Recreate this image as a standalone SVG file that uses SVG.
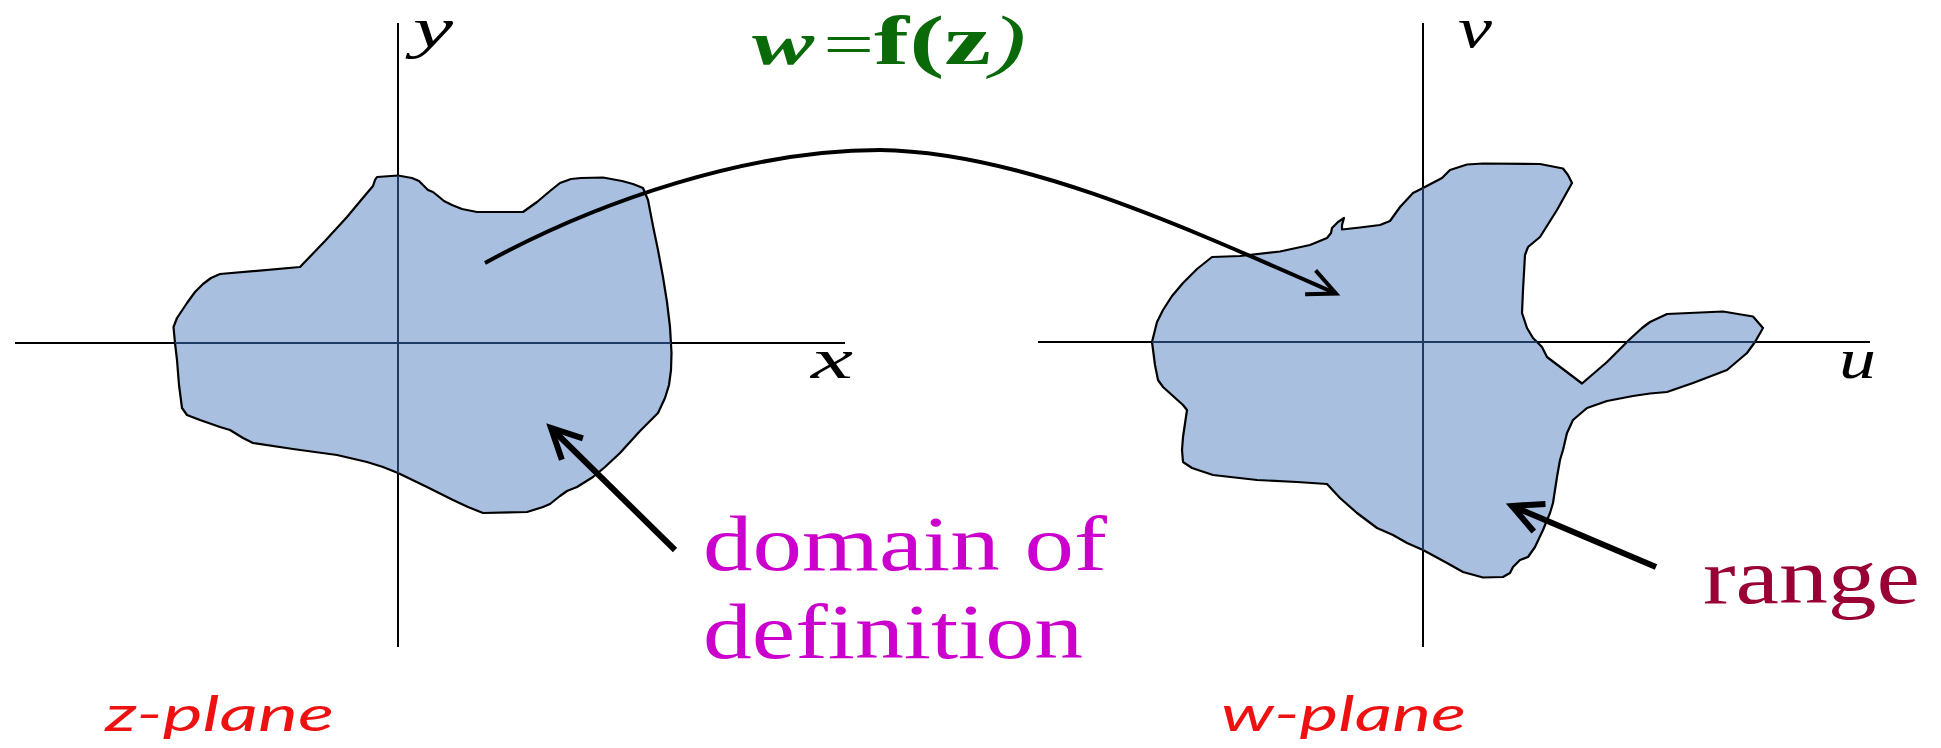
<svg xmlns="http://www.w3.org/2000/svg" width="1941" height="748" viewBox="0 0 1941 748">
<style>
.axis{stroke:#000;stroke-width:2;fill:none}
.axisIn{stroke:#1f3a63;stroke-width:2;fill:none}
.blob{fill:#a9bfe0;stroke:#000;stroke-width:2.2;stroke-linejoin:round}
.ax{font-family:"Liberation Serif",serif;font-style:italic;font-size:56px;fill:#000}
.lbl{font-family:"Liberation Serif",serif;font-size:78px}
.plane{font-family:Lato,"Open Sans",sans-serif;font-style:italic;font-size:48px;fill:#ee1111}
.conn{fill:none;stroke:#000}
</style>
<defs>
<path id="blobL" d="M377,177 L398,175.5 L412,178 L419,181 L424,186 L428,190 L433,192 L438,196 L444,201 L452,205 L462,209 L477,212 L523,212 L537,202 L550,191 L560,183 L571,179 L581,178 L603,177.5 L622,181 L633,184 L643,188 L648,200 L653,226 L658,250 L663,277 L667,302 L670,327 L671.5,353 L671,370 L669,385 L665,398 L658,413 L640,431 L620,453 L605,467 L593,477 L577,487 L567,491 L560,496 L550,504 L543,507 L527,512 L483,513 L468,507 L453,500 L427,487 L398,473 L383,467 L367,462 L337,455 L293,449 L253,443 L243,438 L230,430 L220,427 L200,420 L187,415 L182,408 L179,385 L177,360 L175,343 L173.5,327 L177,318 L187,303 L195,292 L203,284 L211,278 L220,274 L300,267 L325,241 L347,217 L362,199 L373,186 L375,180 Z"/>
<path id="blobR" d="M1152,342 L1157,322 L1163,310 L1172,296 L1183,283 L1197,269 L1212,257 L1240,256 L1280,251.5 L1310,245 L1327,238 L1331,233 L1332,228 L1338,222 L1344,218 L1342,225 L1342,229.5 L1360,227.5 L1380,225 L1390,221 L1395,214 L1400,207 L1413,193 L1423,188 L1442,178 L1450,170 L1467,164.5 L1483,163.5 L1540,164 L1563,168.5 L1568,175 L1572,183 L1557,210 L1540,237 L1528,247 L1525,255 L1523,290 L1522,313 L1527,328 L1533,338 L1542,347 L1547,357 L1582,383.5 L1607,362 L1630,339 L1642,328 L1650,322 L1667,314 L1723,311.5 L1753,316.5 L1763,328 L1755,342 L1747,353 L1727,370 L1693,383 L1667,392 L1650,393.5 L1633,396 L1607,401 L1587,408 L1573,420 L1567,433 L1563,450 L1560,460 L1557,477 L1553,503 L1550,513 L1543,530 L1535,547 L1528,557 L1520,560 L1513,567 L1510,573 L1503,577 L1483,577.5 L1463,572 L1447,563 L1423,550 L1407,543 L1393,535 L1377,528 L1357,513 L1340,498 L1327,484 L1297,482 L1257,480 L1213,475 L1192,468 L1183,462 L1182,450 L1183,437 L1187,410 L1183,405 L1163,387 L1158,380 L1155,365 Z"/>
<clipPath id="clipL"><use href="#blobL"/></clipPath>
<clipPath id="clipR"><use href="#blobR"/></clipPath>
<marker id="headThin" markerUnits="userSpaceOnUse" orient="auto" refX="0" refY="0" markerWidth="60" markerHeight="60" overflow="visible">
<path d="M-28,-13 L0,0 L-28,13" fill="none" stroke="#000" stroke-width="4" stroke-linejoin="miter"/>
</marker>
<marker id="headThick" markerUnits="userSpaceOnUse" orient="auto" refX="0" refY="0" markerWidth="60" markerHeight="60" overflow="visible">
<path d="M-30,-15 L0,0 L-30,15" fill="none" stroke="#000" stroke-width="6" stroke-linejoin="miter"/>
</marker>
</defs>
<rect width="1941" height="748" fill="#fff"/>

<g id="z-plane-axes">
<line class="axis" x1="15" y1="343" x2="845" y2="343"/>
<line class="axis" x1="398" y1="23" x2="398" y2="647"/>
</g>
<g id="w-plane-axes">
<line class="axis" x1="1038" y1="342" x2="1870" y2="342"/>
<line class="axis" x1="1423" y1="23" x2="1423" y2="647"/>
</g>

<g id="domain">
<use href="#blobL" class="blob"/>
<g clip-path="url(#clipL)">
<line class="axisIn" x1="15" y1="343" x2="845" y2="343"/>
<line class="axisIn" x1="398" y1="23" x2="398" y2="647"/>
</g>
</g>
<g id="range">
<use href="#blobR" class="blob"/>
<g clip-path="url(#clipR)">
<line class="axisIn" x1="1038" y1="342" x2="1870" y2="342"/>
<line class="axisIn" x1="1423" y1="23" x2="1423" y2="647"/>
</g>
</g>

<g id="connectors">
<path class="conn" stroke-width="4" d="M485,263 C600,200 750,150 880,150 C1020,152 1180,225 1336,293.5" marker-end="url(#headThin)"/>
<line class="conn" stroke-width="6" x1="675" y1="550" x2="551" y2="428" marker-end="url(#headThick)"/>
<line class="conn" stroke-width="6" x1="1656" y1="567" x2="1512" y2="506" marker-end="url(#headThick)"/>
</g>

<g id="labels">
<text class="ax" x="413" y="47" textLength="40" lengthAdjust="spacingAndGlyphs">y</text>
<text class="ax" x="811" y="378" textLength="42" lengthAdjust="spacingAndGlyphs">x</text>
<text class="ax" x="1458" y="47" font-size="52" textLength="34" lengthAdjust="spacingAndGlyphs">v</text>
<text class="ax" x="1839" y="378" textLength="37" lengthAdjust="spacingAndGlyphs">u</text>
<text id="title" x="752" y="64" font-family="Liberation Serif, serif" fill="#0a6a0a" textLength="274" lengthAdjust="spacingAndGlyphs"><tspan font-style="italic" font-weight="bold" font-size="62">w</tspan><tspan font-size="60" dx="6">=</tspan><tspan font-weight="bold" font-size="70">f(z</tspan><tspan font-style="italic" font-size="70">)</tspan></text>
<text class="lbl" x="703" y="570" fill="#cc00cc" textLength="404" lengthAdjust="spacingAndGlyphs">domain of</text>
<text class="lbl" x="703" y="658" fill="#cc00cc" textLength="380" lengthAdjust="spacingAndGlyphs">definition</text>
<text class="lbl" x="1703" y="603" fill="#990033" textLength="217" lengthAdjust="spacingAndGlyphs">range</text>
<text class="plane" x="105" y="731" textLength="229" lengthAdjust="spacingAndGlyphs">z-plane</text>
<text class="plane" x="1221" y="731" textLength="245" lengthAdjust="spacingAndGlyphs">w-plane</text>
</g>
</svg>
